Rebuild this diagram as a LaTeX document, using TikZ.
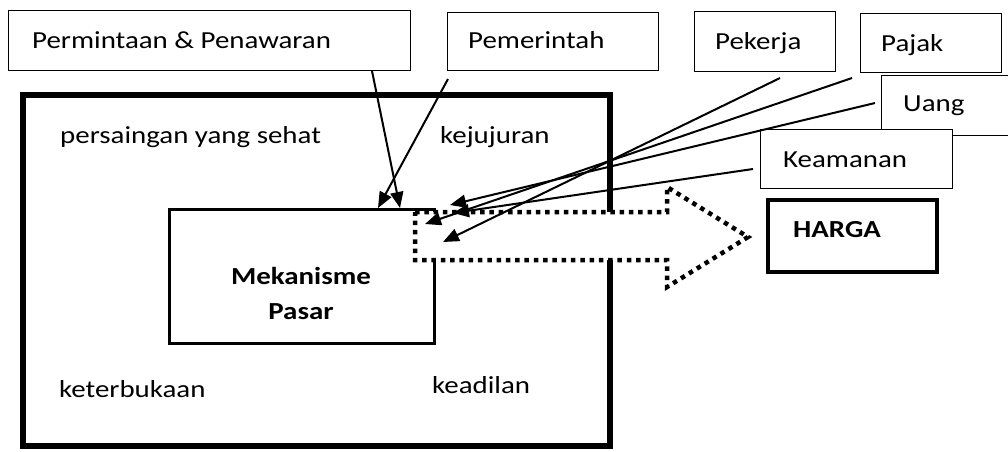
\documentclass[tikz,border=0pt]{standalone}
\usepackage{fontspec}
\setmainfont{Carlito}[FakeStretch=1.18]
\usetikzlibrary{arrows.meta}
\tikzset{
  txt/.style={font=\fontsize{24.5}{29}\selectfont, inner sep=0pt, anchor=base west},
  btxt/.style={font=\fontsize{24.5}{29}\selectfont\bfseries, inner sep=0pt, anchor=base},
  thinbox/.style={draw, line width=1.3pt, fill=white, inner sep=0pt, anchor=north west},
  conn/.style={line width=2pt, -{Triangle[length=16pt,width=13pt]}},
  dotarrow/.style={line width=4.5pt, dash pattern=on 4.5pt off 4.8pt, fill=white}
}
\begin{document}
\begin{tikzpicture}[x=1pt,y=-1pt]
\useasboundingbox (0,0) rectangle (1008,451);
\clip (0,0) rectangle (1008,451);
\fill[white] (0,0) rectangle (1008,451);

% outer frame
\node[draw, line width=6pt, inner sep=0pt, minimum width=587pt, minimum height=351pt, anchor=north west] (frame) at (20,92) {};
% market mechanism box
\node[draw, line width=3pt, inner sep=0pt, minimum width=265pt, minimum height=134pt, anchor=north west] (mek) at (168,208) {};
\node[btxt] (mekT) at (301,284) {Mekanisme};
\node[btxt] (pasT) at (301,319) {Pasar};

% values inside frame
\node[txt] (sehat) at (60,143) {persaingan yang sehat};
\node[txt] (jujur) at (440,143) {kejujuran};
\node[txt] (buka) at (59,397) {keterbukaan};
\node[txt] (adil) at (432,393) {keadilan};

% dotted arrow
\draw[dotarrow] (415,212) -- (667,212) -- (667,187) -- (748,237) -- (667,287) -- (667,260) -- (415,260) -- cycle;

% HARGA
\node[draw, line width=4pt, inner sep=0pt, minimum width=169pt, minimum height=72pt, anchor=north west] (harga) at (766,198) {};
\node[txt, font=\fontsize{24.5}{29}\selectfont\bfseries] (hargaT) at (793,237) {HARGA};

% top boxes
\node[thinbox, minimum width=402pt, minimum height=60pt] (perm) at (8,10) {};
\node[txt] (permT) at (32,48) {Permintaan \& Penawaran};
\node[thinbox, minimum width=211pt, minimum height=58pt] (pem) at (447,12) {};
\node[txt] (pemT) at (468,48) {Pemerintah};
\node[thinbox, minimum width=141pt, minimum height=60pt] (pek) at (694,11) {};
\node[txt] (pekT) at (715,49) {Pekerja};
\node[thinbox, minimum width=141pt, minimum height=59pt] (paj) at (860,13) {};
\node[txt] (pajT) at (881,51) {Pajak};
\node[thinbox, minimum width=160pt, minimum height=60pt] (uang) at (881,75) {};
\node[txt] (uangT) at (903,111) {Uang};
\node[thinbox, minimum width=192pt, minimum height=59pt] (keam) at (760,129) {};
\node[txt] (keamT) at (783,167) {Keamanan};

% connector end points
\coordinate (permS) at (372,71);
\coordinate (permE) at (400,208);
\coordinate (pemS) at (448,79);
\coordinate (pemE) at (378,208);
\coordinate (pekS) at (780,78);
\coordinate (pekE) at (443,242);
\coordinate (pajS) at (852,78);
\coordinate (pajE) at (425,224);
\coordinate (uangS) at (875,103);
\coordinate (uangE) at (450,205);
\coordinate (keamS) at (753,169);
\coordinate (keamE) at (453,213);

\draw[conn] (permS) -- (permE);
\draw[conn] (pemS) -- (pemE);
\draw[conn] (pekS) -- (pekE);
\draw[conn] (pajS) -- (pajE);
\draw[conn] (uangS) -- (uangE);
\draw[conn] (keamS) -- (keamE);
\end{tikzpicture}
\end{document}
